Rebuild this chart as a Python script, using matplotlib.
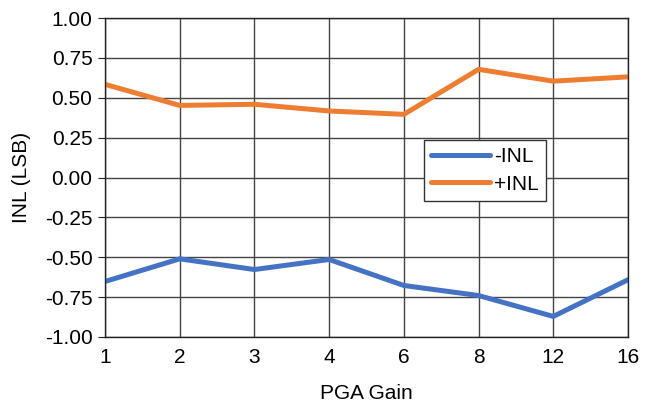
import matplotlib
matplotlib.use("Agg")
import matplotlib.pyplot as plt

gains = ["1", "2", "3", "4", "6", "8", "12", "16"]
neg_inl = [-0.652, -0.51, -0.577, -0.514, -0.677, -0.74, -0.871, -0.641]
pos_inl = [0.584, 0.452, 0.459, 0.417, 0.396, 0.678, 0.604, 0.631]
yticks = [-1.0, -0.75, -0.5, -0.25, 0.0, 0.25, 0.5, 0.75, 1.0]

plt.rcParams['font.family'] = ['Liberation Sans', 'DejaVu Sans']

fig = plt.figure(figsize=(6.53, 4.07), dpi=100)
ax = fig.add_axes([105/653, 1-337/407, (628-105)/653, (337-18)/407])

x = list(range(len(gains)))
ax.plot(x, neg_inl, color="#4472C4", lw=3.6, label="-INL", solid_capstyle="round")
ax.plot(x, pos_inl, color="#ED7D31", lw=3.6, label="+INL", solid_capstyle="round")

ax.set_xlim(0, len(gains)-1)
ax.set_ylim(-1, 1)
ax.set_xticks(x)
ax.set_xticklabels(gains)
ax.set_yticks(yticks)
ax.set_yticklabels([f"{v:.2f}" for v in yticks])
ax.grid(True, color="#444444", lw=1.0)
ax.set_axisbelow(True)
for s in ax.spines.values():
    s.set_color("#222222")
    s.set_linewidth(1.0)
ax.tick_params(axis='both', labelsize=15, colors="#222222", labelcolor="black")
ax.tick_params(axis='x', length=0, pad=8)
ax.tick_params(axis='y', length=5, pad=4)

ax.set_xlabel("PGA Gain", fontsize=15, labelpad=12)
ax.set_ylabel("INL (LSB)", fontsize=15, labelpad=10)

leg = ax.legend(loc="upper left", bbox_to_anchor=((424-105)/523, 1-(140-18)/319),
                fontsize=15, frameon=True, fancybox=False, handlelength=2.8,
                borderpad=0.35, labelspacing=0.4, handletextpad=0.2, borderaxespad=0)
leg.get_frame().set_edgecolor("#333333")
leg.get_frame().set_linewidth(1.0)
leg.get_frame().set_alpha(1)

fig.savefig("out.png", dpi=100)
